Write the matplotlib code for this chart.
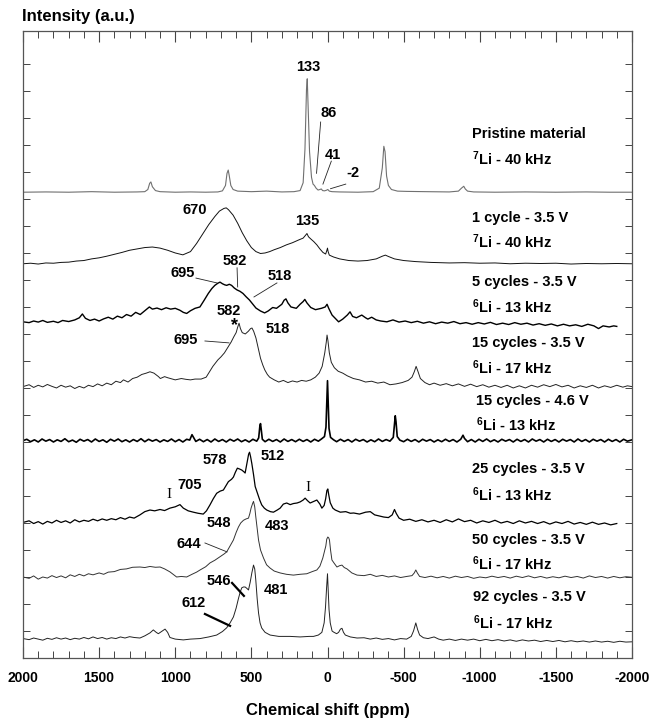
import numpy as np
import matplotlib
matplotlib.use("Agg")
import matplotlib.pyplot as plt
from matplotlib.ticker import MultipleLocator

# --- spectra: chemical shift (ppm) and intensity above each trace's own baseline ---
pristine_ppm = [2000, 1850, 1700, 1550, 1400, 1250, 1200, 1180, 1168, 1160, 1150, 1130, 1100, 1000, 900, 800,
                720, 690, 670, 660, 652, 645, 635, 620, 590, 500, 400, 300, 220, 180, 160, 148, 138, 133, 128,
                118, 105, 95, 86, 75, 62, 50, 41, 32, 20, 8, -2, -12, -30, -80, -200, -300, -340, -360, -370,
                -378, -388, -400, -420, -460, -520, -650, -800, -860, -880, -895, -905, -920, -960, -1100,
                -1300, -1500, -1700, -1850, -2000]
pristine_int = [0, 0.01, 0, 0.02, 0, 0.01, 0.02, 0.1, 0.33, 0.38, 0.2, 0.06, 0.02, 0, 0.01, 0,
                0.01, 0.05, 0.25, 0.7, 0.82, 0.6, 0.25, 0.1, 0.04, 0.02, 0.04, 0.01, 0.02, 0.06, 0.35, 1.6, 3.8, 4.2, 3.3,
                1.5, 0.55, 0.3, 0.25, 0.15, 0.08, 0.1, 0.12, 0.06, 0.05, 0.07, 0.1, 0.04, 0.02, 0.01, 0, 0.02, 0.15, 0.9, 1.7,
                1.5, 0.6, 0.25, 0.1, 0.04, 0.03, 0.02, 0.01, 0.04, 0.15, 0.22, 0.12, 0.04, 0.01, 0,
                0.01, 0, 0.01, 0, 0]

cyc1_ppm = [2000, 1950, 1900, 1850, 1800, 1750, 1700, 1650, 1600, 1550, 1500, 1450, 1400, 1350, 1300, 1250,
            1200, 1150, 1100, 1050, 1000, 950, 900, 860, 820, 780, 740, 710, 680, 665, 650, 620, 590, 560, 530,
            500, 470, 440, 410, 380, 350, 310, 270, 230, 190, 160, 145, 135, 125, 110, 90, 70, 50, 30, 12, 4, 0,
            -4, -12, -40, -80, -140, -200, -260, -320, -360, -380, -400, -440, -500, -580, -680, -800, -900,
            -1000, -1100, -1200, -1300, -1400, -1500, -1600, -1700, -1800, -1900, -2000]
cyc1_int = [0.0, 0.02, -0.01, 0.03, 0.02, 0.05, 0.06, 0.1, 0.12, 0.18, 0.22, 0.28, 0.35, 0.42, 0.5, 0.55,
            0.6, 0.62, 0.58, 0.5, 0.4, 0.33, 0.45, 0.75, 1.1, 1.45, 1.75, 1.95, 2.05, 2.07, 2.0, 1.8, 1.5, 1.15, 0.85,
            0.6, 0.45, 0.38, 0.4, 0.45, 0.52, 0.6, 0.7, 0.78, 0.88, 0.95, 1.05, 1.12, 1.0, 0.92, 0.82, 0.7, 0.55, 0.42, 0.36, 0.5, 0.58,
            0.45, 0.32, 0.25, 0.18, 0.12, 0.1, 0.12, 0.18, 0.28, 0.32, 0.27, 0.18, 0.12, 0.08, 0.05, 0.03, 0.04,
            0.02, 0.03, 0.0, 0.02, 0.01, 0.02, -0.01, 0.01, 0.0, 0.01, 0.0]

cyc5_ppm = [2000, 1960, 1930, 1900, 1870, 1840, 1800, 1770, 1740, 1700, 1660, 1630, 1610, 1590, 1560, 1530,
            1500, 1470, 1440, 1410, 1380, 1350, 1320, 1290, 1260, 1230, 1200, 1170, 1150, 1120, 1090, 1060,
            1030, 1000, 970, 947, 925, 900, 870, 838, 810, 783, 760, 740, 720, 706, 690, 675, 662, 645, 630,
            612, 594, 575, 555, 535, 513, 490, 470, 440, 413, 390, 360, 335, 300, 285, 273, 260, 240, 205,
            180, 160, 149, 135, 110, 79, 40, 15, 3, -8, -30, -73, -100, -130, -148, -165, -190, -225, -250,
            -265, -290, -320, -350, -390, -430, -470, -510, -550, -590, -630, -670, -710, -750, -790, -830,
            -870, -910, -950, -990, -1030, -1070, -1110, -1150, -1190, -1230, -1270, -1310, -1350, -1390,
            -1430, -1470, -1510, -1550, -1590, -1630, -1670, -1710, -1750, -1780, -1810, -1850, -1880, -1900]
cyc5_int = [0, -0.03, 0.03, -0.01, 0.05, -0.02, 0.02, -0.03, 0.05, 0.01, 0.07, 0.15, 0.29, 0.13, 0.05, 0.1,
            0.03, 0.11, 0.17, 0.1, 0.21, 0.15, 0.27, 0.21, 0.35, 0.27, 0.41, 0.55, 0.47, 0.51, 0.45, 0.52,
            0.47, 0.5, 0.43, 0.35, 0.31, 0.41, 0.5, 0.55, 0.8, 1.05, 1.23, 1.35, 1.43, 1.47, 1.41, 1.37, 1.35, 1.39, 1.35,
            1.25, 1.18, 1.13, 1.05, 0.93, 0.81, 0.65, 0.51, 0.4, 0.33, 0.4, 0.53, 0.5, 0.65, 0.8, 0.85, 0.7, 0.55, 0.5,
            0.65, 0.75, 0.83, 0.7, 0.53, 0.45, 0.5, 0.55, 0.65, 0.5, 0.25, 0.0, 0.1, 0.25, 0.37, 0.2, 0.15, 0.25, 0.15,
            0.1, 0.17, 0.07, 0.03, 0.0, 0.07, -0.01, 0.03, -0.03, 0.02, -0.05, 0.0, -0.07, -0.01, -0.05, 0.01,
            -0.07, -0.03, -0.09, -0.03, -0.08, -0.02, -0.1, -0.05, -0.1, -0.03, -0.09, -0.05, -0.12, -0.07,
            -0.13, -0.08, -0.15, -0.09, -0.15, -0.11, -0.17, -0.09, -0.15, -0.25, -0.15, -0.19, -0.15, -0.17]

cyc15_ppm = [2000, 1960, 1930, 1900, 1870, 1840, 1810, 1780, 1750, 1720, 1690, 1660, 1630, 1600, 1570, 1540,
             1510, 1480, 1450, 1420, 1390, 1360, 1340, 1310, 1280, 1250, 1220, 1190, 1166, 1140, 1110, 1098,
             1070, 1050, 1032, 1000, 960, 930, 900, 870, 830, 797, 775, 753, 720, 700, 677, 655, 633, 615, 600,
             590, 581, 572, 560, 540, 520, 505, 496, 485, 470, 456, 440, 425, 412, 395, 380, 350, 320, 290,
             260, 230, 200, 170, 140, 110, 80, 55, 35, 18, 8, 3, -3, -12, -25, -45, -70, -100, -130, -170,
             -210, -250, -290, -330, -370, -410, -450, -490, -530, -555, -570, -582, -595, -610, -640, -670,
             -700, -740, -780, -820, -860, -900, -940, -980, -1020, -1060, -1100, -1140, -1180, -1220, -1260,
             -1300, -1340, -1380, -1420, -1460, -1500, -1540, -1580, -1620, -1660, -1700, -1740, -1780, -1820,
             -1860, -1900, -1940, -1970, -2000]
cyc15_int = [0.0, 0.07, -0.03, 0.05, -0.01, 0.08, 0.01, -0.05, 0.05, -0.02, 0.03, -0.07, 0.01, -0.05, 0.05, 0.0,
             0.1, 0.03, 0.13, 0.07, 0.2, 0.15, 0.25, 0.17, 0.3, 0.35, 0.45, 0.5, 0.55, 0.5, 0.37, 0.3,
             0.37, 0.33, 0.3, 0.25, 0.3, 0.27, 0.25, 0.28, 0.28, 0.35, 0.55, 0.75, 0.99, 1.1, 1.25, 1.45, 1.65, 1.85, 2.0,
             2.2, 2.35, 2.15, 2.0, 1.95, 2.05, 2.15, 2.17, 2.05, 1.8, 1.45, 1.05, 0.8, 0.62, 0.45, 0.35, 0.25, 0.17, 0.23,
             0.15, 0.21, 0.17, 0.23, 0.2, 0.25, 0.35, 0.5, 0.75, 1.25, 1.65, 1.91, 1.7, 1.25, 0.9, 0.7, 0.57, 0.5, 0.4, 0.3,
             0.25, 0.17, 0.2, 0.13, 0.17, 0.07, 0.1, 0.15, 0.23, 0.35, 0.55, 0.75, 0.55, 0.3, 0.15, 0.07,
             0.13, 0.05, 0.11, 0.03, 0.1, 0.01, 0.09, 0.0, 0.07, -0.02, 0.05, -0.03, 0.05, -0.05, 0.03,
             -0.05, 0.05, -0.02, 0.07, 0.0, 0.08, -0.01, 0.05, -0.05, 0.03, -0.03, 0.05, -0.05, 0.03,
             -0.03, 0.05, -0.02, 0.03, 0.0]

hv_ppm = [2000, 1975, 1950, 1925, 1900, 1875, 1850, 1825, 1800, 1775, 1750, 1725, 1700, 1675, 1650, 1625,
          1600, 1575, 1550, 1525, 1500, 1475, 1450, 1425, 1400, 1375, 1350, 1325, 1300, 1275, 1250, 1225,
          1200, 1175, 1150, 1125, 1100, 1075, 1050, 1025, 1000, 975, 950, 925, 905, 890, 880, 865, 840, 815,
          790, 765, 740, 715, 690, 665, 640, 615, 590, 565, 540, 515, 490, 465, 452, 444, 440, 436, 428, 410,
          385, 360, 335, 310, 285, 260, 235, 210, 185, 160, 135, 110, 85, 60, 40, 20, 10, 4, 0, -4, -10, -20,
          -40, -60, -85, -110, -135, -160, -185, -210, -235, -260, -285, -310, -335, -360, -385, -410, -432,
          -440, -445, -450, -458, -475, -500, -525, -550, -575, -600, -625, -650, -675, -700, -725, -750,
          -775, -800, -825, -850, -875, -890, -900, -920, -945, -970, -995, -1020, -1045, -1070, -1095,
          -1120, -1145, -1170, -1195, -1220, -1245, -1270, -1295, -1320, -1345, -1370, -1395, -1420, -1445,
          -1470, -1495, -1520, -1545, -1570, -1595, -1620, -1645, -1670, -1695, -1720, -1745, -1770, -1795,
          -1820, -1845, -1870, -1895, -1920, -1945, -1970, -2000]
hv_int = [0.0, 0.05, -0.04, 0.03, -0.05, 0.06, -0.02, 0.04, -0.05, 0.03, -0.03, 0.07, -0.04, 0.02, -0.06, 0.05,
          -0.02, 0.04, -0.05, 0.06, -0.03, 0.03, -0.06, 0.05, -0.02, 0.06, -0.04, 0.03, -0.05, 0.04, -0.03, 0.07,
          -0.04, 0.05, -0.02, 0.04, -0.05, 0.03, -0.03, 0.06, -0.04, 0.04, -0.05, 0.05, 0.02, 0.22, 0.12, -0.03, 0.05, -0.04,
          0.04, -0.05, 0.06, -0.03, 0.04, -0.05, 0.05, -0.02, 0.06, -0.04, 0.03, -0.05, 0.05, -0.02, 0.1, 0.55, 0.63, 0.45, 0.05, -0.04,
          0.05, -0.03, 0.04, -0.05, 0.06, -0.03, 0.04, -0.04, 0.05, -0.03, 0.04, -0.05, 0.05, -0.02, 0.06, 0.15, 0.5, 1.6, 2.22, 1.5, 0.45, 0.12,
          0.03, -0.04, 0.05, -0.03, 0.04, -0.05, 0.05, -0.02, 0.04, -0.05, 0.03, -0.04, 0.06, -0.03, 0.04, -0.02, 0.12,
          0.6, 0.92, 0.7, 0.15, 0.02, -0.04, 0.05, -0.03, 0.04, -0.05, 0.05, -0.02, 0.04, -0.05, 0.03, -0.04,
          0.05, -0.03, 0.04, -0.05, 0.05, 0.2, 0.08, -0.04, 0.04, -0.05, 0.05, -0.03, 0.06, -0.04, 0.03,
          -0.05, 0.05, -0.02, 0.04, -0.05, 0.05, -0.03, 0.04, -0.05, 0.06, -0.02, 0.04, -0.05, 0.05,
          -0.03, 0.04, -0.05, 0.05, -0.02, 0.04, -0.05, 0.06, -0.03, 0.04, -0.05, 0.05, -0.02, 0.04,
          -0.05, 0.05, -0.03, 0.04, -0.05, 0.05, -0.02, 0.03]

cyc25_ppm = [2000, 1960, 1930, 1900, 1870, 1840, 1810, 1780, 1750, 1720, 1690, 1660, 1630, 1600, 1570, 1540,
             1510, 1480, 1450, 1420, 1390, 1360, 1330, 1300, 1270, 1232, 1200, 1166, 1135, 1100, 1070, 1035,
             1000, 969, 947, 915, 881, 850, 816, 795, 772, 750, 728, 705, 684, 665, 651, 630, 618, 605, 592,
             578, 563, 550, 541, 533, 526, 518, 512, 505, 497, 486, 475, 460, 445, 432, 415, 399, 375, 355,
             330, 311, 290, 268, 245, 224, 200, 180, 160, 147, 130, 114, 90, 70, 50, 37, 22, 12, 4, -2, -8,
             -18, -35, -51, -84, -120, -150, -172, -210, -250, -281, -310, -340, -370, -400, -425, -440, -452,
             -470, -500, -540, -580, -620, -660, -700, -740, -780, -820, -860, -900, -940, -980, -1020, -1060,
             -1100, -1140, -1180, -1220, -1260, -1300, -1340, -1380, -1420, -1460, -1500, -1540, -1580, -1620,
             -1660, -1700, -1740, -1780, -1820, -1860, -1900]
cyc25_int = [-0.03, 0.03, -0.07, 0.0, -0.09, 0.01, -0.05, 0.05, -0.03, 0.03, -0.05, 0.07, -0.01, 0.05, 0.01, 0.09,
             0.03, 0.1, 0.05, 0.11, 0.07, 0.15, 0.09, 0.17, 0.13, 0.25, 0.37, 0.43, 0.4, 0.45, 0.41, 0.5,
             0.55, 0.63, 0.5, 0.4, 0.35, 0.31, 0.28, 0.4, 0.62, 0.85, 1.05, 1.13, 1.17, 1.35, 1.48, 1.57, 1.65, 1.83, 1.98,
             1.95, 1.91, 1.85, 1.8, 2.05, 2.28, 2.5, 2.57, 2.4, 2.15, 1.75, 1.3, 1.05, 0.8, 0.62, 0.5, 0.43, 0.37, 0.35,
             0.43, 0.5, 0.65, 0.69, 0.63, 0.67, 0.69, 0.73, 0.8, 0.87, 0.77, 0.69, 0.75, 0.8, 0.65, 0.5, 0.6, 0.85, 1.15, 1.21, 1.0,
             0.7, 0.5, 0.43, 0.35, 0.37, 0.31, 0.32, 0.28, 0.35, 0.37, 0.25, 0.21, 0.17, 0.15, 0.25, 0.45, 0.3,
             0.13, 0.05, 0.09, 0.01, 0.07, -0.01, 0.05, -0.03, 0.07, -0.01, 0.1, 0.0, 0.05, -0.05, 0.03, -0.03,
             0.05, -0.05, 0.01, -0.07, 0.03, -0.05, 0.01, -0.07, 0.0, -0.09, -0.01, -0.07, 0.01, -0.09,
             -0.03, -0.1, -0.02, -0.1, -0.05, -0.12, -0.07]

cyc50_ppm = [2000, 1960, 1930, 1900, 1870, 1840, 1810, 1780, 1750, 1720, 1690, 1660, 1630, 1600, 1570, 1540,
             1500, 1470, 1440, 1400, 1360, 1320, 1280, 1232, 1200, 1166, 1130, 1100, 1070, 1035, 1010, 991, 960,
             925, 890, 860, 837, 800, 772, 740, 706, 680, 662, 640, 618, 600, 585, 570, 552, 535, 519, 510, 502,
             492, 486, 478, 471, 462, 453, 440, 420, 400, 377, 350, 311, 270, 224, 180, 136, 100, 70, 50, 31,
             18, 11, 5, -2, -8, -13, -20, -29, -45, -62, -80, -95, -110, -128, -160, -194, -240, -281, -320,
             -360, -400, -440, -480, -520, -555, -570, -580, -590, -605, -640, -680, -720, -760, -800, -840,
             -880, -920, -960, -1000, -1040, -1080, -1120, -1160, -1200, -1240, -1280, -1320, -1360, -1400,
             -1440, -1480, -1520, -1560, -1600, -1640, -1680, -1720, -1760, -1800, -1840, -1880, -1920, -1960, -2000]
cyc50_int = [0.0, -0.05, 0.04, -0.08, 0.0, -0.04, 0.05, -0.02, 0.04, -0.03, 0.08, 0.02, 0.1, 0.04, 0.12, 0.08,
             0.15, 0.1, 0.18, 0.2, 0.28, 0.3, 0.36, 0.37, 0.35, 0.39, 0.36, 0.37, 0.3, 0.19, 0.08, 0.0, 0.02,
             0.0, 0.1, 0.18, 0.26, 0.38, 0.52, 0.62, 0.75, 0.85, 0.93, 1.15, 1.37, 1.65, 1.85, 2.0, 2.1, 2.15, 2.18, 2.35, 2.55,
             2.72, 2.8, 2.6, 2.23, 1.8, 1.37, 1.0, 0.7, 0.45, 0.33, 0.22, 0.15, 0.1, 0.07, 0.1, 0.12, 0.2, 0.26, 0.4, 0.7,
             1.0, 1.15, 1.4, 1.48, 1.45, 1.37, 1.0, 0.63, 0.5, 0.37, 0.42, 0.44, 0.35, 0.3, 0.15, 0.07, 0.05, 0.1, 0.02,
             0.06, 0.0, 0.04, -0.02, 0.02, 0.05, 0.15, 0.26, 0.15, 0.02, -0.02, 0.03, -0.03, 0.02, -0.04, 0.03,
             -0.02, 0.02, -0.05, 0.0, -0.03, 0.03, -0.02, 0.02, -0.04, 0.03, -0.02, 0.04, -0.03, 0.02,
             -0.04, 0.01, -0.03, 0.03, -0.02, 0.02, -0.04, 0.04, -0.02, 0.02, -0.04, 0.02, -0.03, 0.01, -0.01]

cyc92_ppm = [2000, 1960, 1930, 1900, 1870, 1840, 1810, 1780, 1750, 1720, 1690, 1660, 1630, 1600, 1570, 1540,
             1510, 1480, 1450, 1420, 1390, 1360, 1330, 1300, 1270, 1232, 1200, 1166, 1144, 1125, 1111, 1090, 1067,
             1050, 1035, 1000, 947, 900, 837, 780, 728, 690, 662, 640, 618, 600, 585, 573, 563, 552, 541, 530,
             519, 508, 497, 486, 478, 471, 462, 453, 443, 432, 410, 377, 320, 246, 180, 120, 92, 60, 37, 22, 13,
             6, 0, -5, -10, -18, -30, -40, -60, -73, -85, -95, -105, -117, -150, -194, -240, -281, -320, -360,
             -400, -440, -480, -520, -550, -565, -580, -592, -605, -630, -660, -700, -730, -760, -800, -840,
             -880, -920, -960, -1000, -1040, -1080, -1120, -1160, -1200, -1240, -1280, -1320, -1360, -1400,
             -1440, -1480, -1520, -1560, -1600, -1640, -1680, -1720, -1760, -1800, -1840, -1880, -1920, -1960, -2000]
cyc92_int = [0.02, -0.02, 0.04, 0.0, -0.04, 0.03, -0.01, 0.05, 0.0, 0.04, -0.02, 0.03, 0.0, 0.06, 0.01, 0.08,
             0.02, 0.06, 0.0, 0.05, 0.02, 0.08, 0.04, 0.09, 0.06, 0.04, 0.12, 0.23, 0.34, 0.25, 0.2, 0.28, 0.37,
             0.25, 0.06, 0.0, -0.03, 0.0, 0.02, 0.08, 0.15, 0.28, 0.42, 0.6, 0.82, 1.15, 1.5, 1.75, 1.9, 1.93, 1.93, 1.88,
             1.82, 2.1, 2.45, 2.74, 2.6, 2.19, 1.5, 0.97, 0.6, 0.41, 0.25, 0.15, 0.1, 0.1, 0.08, 0.1, 0.1, 0.15, 0.25, 0.6, 1.19,
             1.9, 2.42, 1.8, 1.1, 0.6, 0.3, 0.26, 0.2, 0.25, 0.37, 0.4, 0.25, 0.15, 0.08, 0.04, 0.05, 0.0, 0.04, -0.01,
             0.02, -0.03, 0.02, 0.0, 0.1, 0.3, 0.6, 0.35, 0.15, 0.05, 0.02, 0.08, 0.0, -0.04, 0.0, -0.05,
             0.0, -0.04, 0.0, -0.06, -0.01, -0.06, -0.02, -0.07, -0.03, -0.08, -0.03, -0.07, -0.04, -0.09,
             -0.05, -0.09, -0.05, -0.1, -0.06, -0.1, -0.07, -0.11, -0.07, -0.11, -0.08, -0.12, -0.08, -0.11, -0.1]

spectra_ppm = [pristine_ppm, cyc1_ppm, cyc5_ppm, cyc15_ppm, hv_ppm, cyc25_ppm, cyc50_ppm, cyc92_ppm]
spectra_int = [pristine_int, cyc1_int, cyc5_int, cyc15_int, hv_int, cyc25_int, cyc50_int, cyc92_int]

# sample labels (two lines per trace) and the level of each trace's baseline
sample_names = ["Pristine material", "1 cycle - 3.5 V", "5 cycles - 3.5 V", "15 cycles - 3.5 V",
                "15 cycles - 4.6 V", "25 cycles - 3.5 V", "50 cycles - 3.5 V", "92 cycles - 3.5 V"]
probe_names = [r"$^{7}$Li - 40 kHz", r"$^{7}$Li - 40 kHz", r"$^{6}$Li - 13 kHz", r"$^{6}$Li - 17 kHz",
               r"$^{6}$Li - 13 kHz", r"$^{6}$Li - 13 kHz", r"$^{6}$Li - 17 kHz", r"$^{6}$Li - 17 kHz"]
baselines = [17.25, 14.6, 12.45, 10.05, 8.05, 5.05, 3.0, 0.7]
name_y = [19.42, 16.3, 13.92, 11.67, 9.52, 7.0, 4.37, 2.26]
probe_y = [18.5, 15.4, 13.02, 10.75, 8.63, 6.04, 3.48, 1.3]
name_x = [-949, -949, -949, -949, -975, -949, -952, -955]

# peak annotations: text, ppm, level
peak_labels = ["133", "86", "41", "-2", "670", "135",
               "695", "582", "518",
               "582", "*", "518", "695",
               "578", "512", "705",
               "548", "483", "644",
               "546", "481", "612"]
peak_x = [128, -10, -36, -168, 870, 130,
          949, 608, 312,
          647, 608, 325, 930,
          739, 358, 903,
          713, 332, 910,
          713, 338, 877]
peak_y = [21.9, 20.2, 18.63, 17.96, 16.6, 16.2,
          14.26, 14.7, 14.15,
          12.85, 12.3, 12.2, 11.78,
          7.33, 7.48, 6.4,
          5.0, 4.89, 4.22,
          2.85, 2.52, 2.04]

# leader lines from a label to its feature: (x1, y1, x2, y2)
leaders = [(45, 19.85, 72, 17.95), (-25, 18.4, 30, 17.55), (-120, 17.55, -20, 17.38),
           (864, 14.07, 726, 13.89), (594, 14.45, 590, 13.74), (332, 13.89, 483, 13.37),
           (805, 11.74, 647, 11.67),
           (805, 4.26, 660, 3.93)]
thick_leaders = [(627, 2.78, 549, 2.3), (805, 1.63, 640, 1.19)]

# impurity marks on the 25-cycle trace
impurity_x = [1041, 128]
impurity_y = [6.04, 6.33]

line_colors = ["#707070", "#111111", "#000000", "#222222", "#000000", "#000000", "#333333", "#222222"]
line_widths = [0.8, 0.7, 1.0, 0.7, 1.2, 0.9, 0.7, 0.7]


def setup_fonts():
    plt.rcParams["font.family"] = ["Liberation Sans", "DejaVu Sans"]
    plt.rcParams["font.weight"] = "bold"
    plt.rcParams["mathtext.fontset"] = "custom"
    plt.rcParams["mathtext.rm"] = "Liberation Sans:bold"
    plt.rcParams["mathtext.it"] = "Liberation Sans:bold"
    plt.rcParams["mathtext.bf"] = "Liberation Sans:bold"


def plot_spectra():
    fig = plt.figure(figsize=(6.51, 7.28), dpi=100)
    ax = fig.add_axes([23 / 651, 70 / 728, 609 / 651, 627 / 728])

    for ppm, inten, base, c, lw in zip(spectra_ppm, spectra_int, baselines, line_colors, line_widths):
        ax.plot(ppm, base + np.array(inten), color=c, lw=lw, solid_joinstyle="round")

    for name, nx, ny, probe, py in zip(sample_names, name_x, name_y, probe_names, probe_y):
        ax.text(nx, ny, name, ha="left", va="center", fontsize=10.5, fontweight="bold")
        ax.text(nx, py, probe, ha="left", va="center", fontsize=10.5, fontweight="bold")

    for txt, px, py in zip(peak_labels, peak_x, peak_y):
        ax.text(px, py, txt, ha="center", va="center", fontsize=10.5 if txt != "*" else 13,
                fontweight="bold")

    for x1, y1, x2, y2 in leaders:
        ax.plot([x1, x2], [y1, y2], color="#222222", lw=0.6)
    for x1, y1, x2, y2 in thick_leaders:
        ax.plot([x1, x2], [y1, y2], color="#000000", lw=1.6)

    for ix, iy in zip(impurity_x, impurity_y):
        ax.text(ix, iy, "I", ha="center", va="center", fontsize=11,
                family="Liberation Serif", fontweight="normal")

    ax.set_xlim(2000, -2000)
    ax.set_ylim(0, 23.22)
    ax.set_xticks([2000, 1500, 1000, 500, 0, -500, -1000, -1500, -2000])
    ax.set_xticklabels(["2000", "1500", "1000", "500", "0", "-500", "-1000", "-1500", "-2000"])
    ax.xaxis.set_minor_locator(MultipleLocator(100))
    ax.set_yticks(range(1, 23))
    ax.set_yticklabels([])

    ax.tick_params(axis="x", which="major", direction="in", top=True, bottom=True,
                   length=8, width=0.8, color="#444444", labelsize=10, pad=9)
    ax.tick_params(axis="x", which="minor", direction="in", top=True, bottom=True,
                   length=5, width=0.7, color="#444444")
    ax.tick_params(axis="y", which="major", direction="in", left=True, right=True,
                   length=5, width=0.7, color="#444444")
    for lab in ax.get_xticklabels():
        lab.set_fontweight("bold")
    for sp in ax.spines.values():
        sp.set_linewidth(0.9)
        sp.set_color("#555555")

    fig.text(22 / 651, 1 - 17 / 728, "Intensity (a.u.)", ha="left", va="center",
             fontsize=12, fontweight="bold")
    fig.text(327.5 / 651, 1 - 710 / 728, "Chemical shift (ppm)", ha="center", va="center",
             fontsize=12, fontweight="bold")

    fig.savefig("out.png", dpi=100)


def main():
    setup_fonts()
    plot_spectra()


if __name__ == "__main__":
    main()
